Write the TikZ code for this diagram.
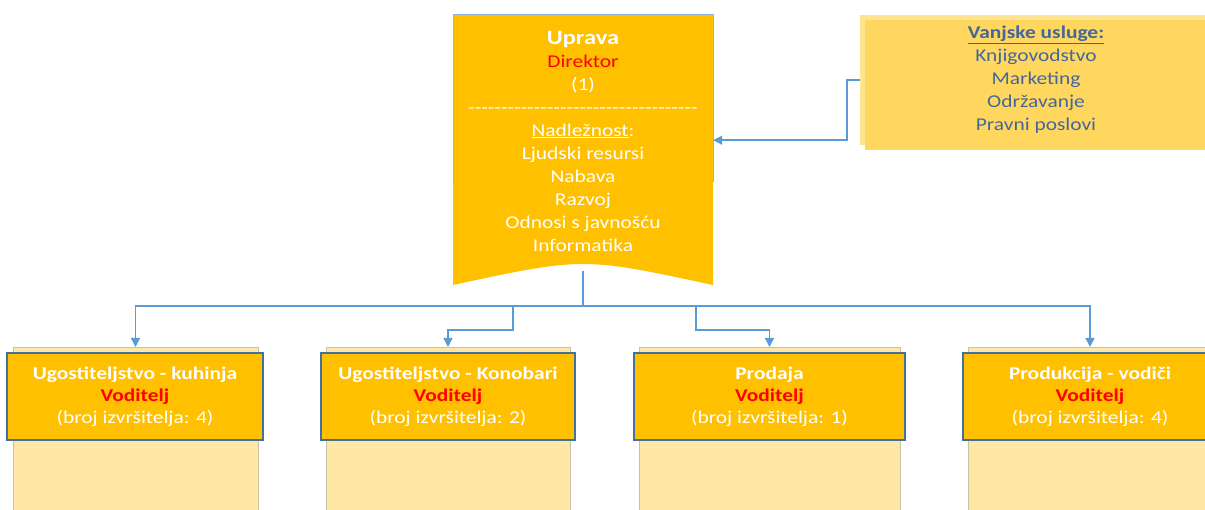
\documentclass[tikz,border=0pt]{standalone}
\usepackage{fontspec}
\setmainfont{Carlito}[FakeStretch=1.19]
\usetikzlibrary{arrows.meta}
\definecolor{gold}{HTML}{FFC000}
\definecolor{pale}{HTML}{FFE8A6}
\definecolor{vsout}{HTML}{FFE48F}
\definecolor{vsin}{HTML}{FFD75E}
\definecolor{bbord}{HTML}{41719C}
\definecolor{conn}{HTML}{5B9BD5}
\definecolor{upbord}{HTML}{8FB4E3}
\definecolor{vstext}{HTML}{44679B}
\definecolor{grayb}{HTML}{C9C2A8}
\newcommand\hyphline[1]{\foreach \i in {1,...,#1}{-}}
\tikzset{
  back/.style={draw=grayb, line width=0.8pt, fill=pale, anchor=north, minimum height=200pt, inner sep=0pt},
  front/.style={draw=bbord, line width=1.1pt, fill=gold, minimum height=87pt, inner sep=0pt, align=center,
    text=white, font=\fontsize{18}{22}\selectfont},
  connline/.style={draw=conn, line width=1.4pt},
  arr/.style={connline, -{Triangle[width=9pt,length=9pt]}},
}
\begin{document}
\begin{tikzpicture}[x=1pt,y=-1pt]
\clip (0,0) rectangle (1205,510);
% Uprava
\fill[gold] (453,15) -- (713,15) -- (713,285) .. controls (583,257) .. (453,285) -- cycle;
\draw[upbord, line width=1pt] (453,182) -- (453,15) -- (713,15) -- (713,182);
\node[minimum width=260pt, minimum height=270pt, anchor=north, inner sep=0pt] (uprava) at (583,15) {};
\coordinate (upbot) at (583,271);
\node[align=center, text=white, font=\fontsize{18}{23}\selectfont, inner sep=0pt] (uptext) at (583,141) {%
{\fontsize{20.5}{23}\selectfont\bfseries Uprava}\\
\textcolor{red}{Direktor}\\
(1)\\
\hyphline{35}\\
\underline{Nadležnost}:\\
Ljudski resursi\\
Nabava\\
Razvoj\\
Odnosi s javnošću\\
Informatika};
% Vanjske usluge
\fill[vsout] (860,15) rectangle (1210,145);
\fill[vsin] (865,20) rectangle (1210,150);
\node[minimum width=345pt, minimum height=130pt, anchor=north west, inner sep=0pt] (vs) at (860,15) {};
\node[align=center, text=vstext, font=\fontsize{18}{23}\selectfont, inner sep=0pt] (vstxt) at (1036,80) {%
\underline{\textbf{Vanjske usluge:}}\\
Knjigovodstvo\\
Marketing\\
Održavanje\\
Pravni poslovi};
% back boxes
\node[back, minimum width=245pt] (k1) at (135.5,347) {};
\node[back, minimum width=244pt] (k2) at (448,347) {};
\node[back, minimum width=261pt] (k3) at (769.5,347) {};
\node[back, minimum width=244pt] (k4) at (1090,347) {};
% front boxes
\node[front, minimum width=256pt] (b1) at (135,396.5) {\textbf{Ugostiteljstvo - kuhinja}\\\textcolor{red}{\textbf{Voditelj}}\\(broj izvršitelja: 4)};
\node[front, minimum width=254pt] (b2) at (448,396.5) {\textbf{Ugostiteljstvo - Konobari}\\\textcolor{red}{\textbf{Voditelj}}\\(broj izvršitelja: 2)};
\node[front, minimum width=271pt] (b3) at (769.5,396.5) {\textbf{Prodaja}\\\textcolor{red}{\textbf{Voditelj}}\\(broj izvršitelja: 1)};
\node[front, minimum width=254pt] (b4) at (1090,396.5) {\textbf{Produkcija - vodiči}\\\textcolor{red}{\textbf{Voditelj}}\\(broj izvršitelja: 4)};
% connectors
\draw[connline] (upbot) -- ++(0,35) coordinate (hub);
\draw[arr] (hub) -| (k1.north);
\draw[arr] (hub) -| ++(-70,24) -| (k2.north);
\draw[arr] (hub) -| ++(113,24) -| (k3.north);
\draw[arr] (hub) -| (k4.north);
\draw[arr] (vs.west) -- ++(-13,0) |- ([yshift=10pt]uprava.east);
\end{tikzpicture}
\end{document}
